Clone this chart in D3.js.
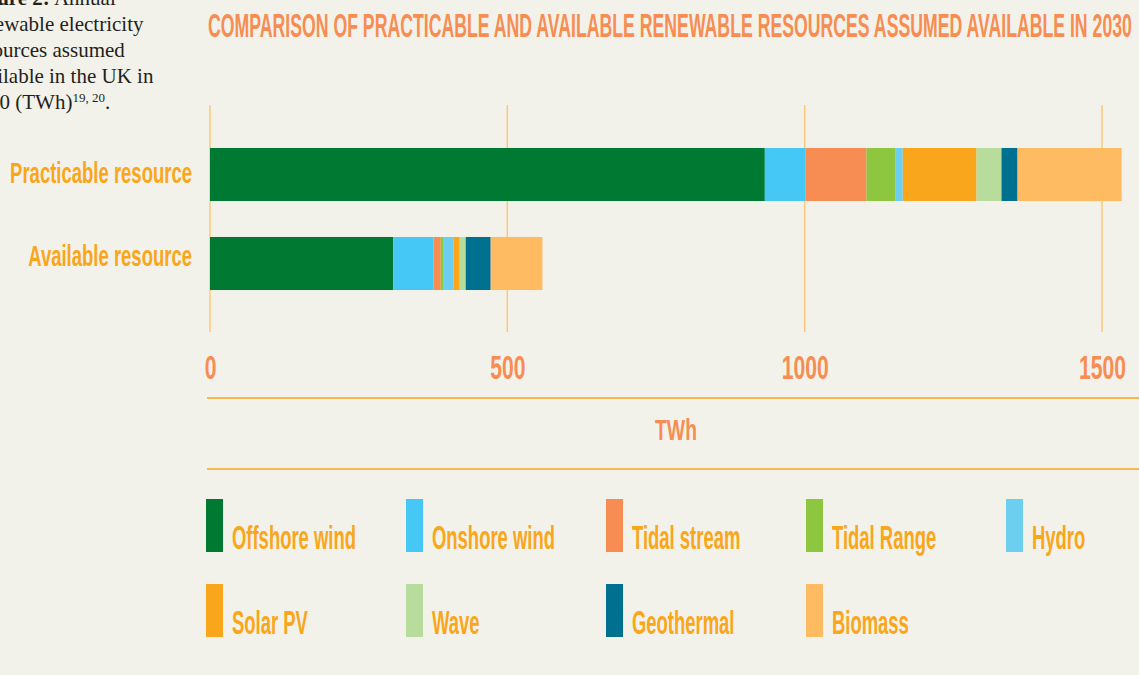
<!DOCTYPE html>
<html>
<head>
<meta charset="utf-8">
<script src="https://cdn.jsdelivr.net/npm/d3@7"></script>
<style>
  body { margin: 0; background: #f3f2ea; }
  svg { display: block; }
</style>
</head>
<body>
<svg id="chart" width="1139" height="675"></svg>
<script>
// data (TWh)
const categories = ["Practicable resource", "Available resource"];
const sources = ["Offshore wind", "Onshore wind", "Tidal stream", "Tidal Range", "Hydro",
                 "Solar PV", "Wave", "Geothermal", "Biomass"];
const practicable = [933, 68, 103, 49, 12, 124, 42, 27, 175];
const available   = [308, 68, 12, 5, 17, 10, 10, 42, 87];
const tickValues = [0, 500, 1000, 1500];
const colors = ["#007a33", "#45c8f5", "#f78d52", "#8dc63f", "#6dcff0",
                "#f9a61c", "#b8dc9c", "#007090", "#ffbb62"];

const svg = d3.select("#chart");
const narrow = "'Liberation Sans Narrow', 'Arial Narrow', 'Liberation Sans', sans-serif";

// horizontal squeeze so a sample string gets the wanted width
function fitScale(sample, size, target) {
  const t = svg.append("text")
    .attr("font-family", narrow).attr("font-weight", "bold")
    .attr("font-size", size).text(sample);
  const w = t.node().getComputedTextLength();
  t.remove();
  return target / w;
}

// condensed text helper
function ctext(g, x, y, txt, size, sx, anchor, fill) {
  return g.append("text")
    .attr("transform", "translate(" + x + "," + y + ") scale(" + sx + ",1)")
    .attr("font-family", narrow)
    .attr("font-weight", "bold")
    .attr("font-size", size)
    .attr("text-anchor", anchor)
    .attr("fill", fill)
    .text(txt);
}

// caption (cut off at left edge)
const cap = svg.append("g")
  .attr("font-family", "'Liberation Serif', 'DejaVu Serif', serif")
  .attr("font-size", 21)
  .attr("fill", "#231f20");
const capX = -32;
const t1 = cap.append("text").attr("x", capX).attr("y", 5);
t1.append("tspan").attr("font-weight", "bold").text("Figure 2:");
t1.append("tspan").text(" Annual");
cap.append("text").attr("x", capX).attr("y", 31).text("renewable electricity");
cap.append("text").attr("x", capX).attr("y", 57).text("resources assumed");
cap.append("text").attr("x", capX).attr("y", 83).text("available in the UK in");
const t5 = cap.append("text").attr("x", capX).attr("y", 109);
t5.append("tspan").text("2030 (TWh)");
t5.append("tspan").attr("font-size", 13).attr("dy", -7).text("19, 20");
t5.append("tspan").attr("dy", 7).text(".");

// title
const title = "COMPARISON OF PRACTICABLE AND AVAILABLE RENEWABLE RESOURCES ASSUMED AVAILABLE IN 2030";
ctext(svg, 208, 37, title, 33, fitScale(title, 33, 924), "start", "#f78d52");

// scales
const x = d3.scaleLinear().domain([0, 1500]).range([210, 1102]);
const y = d3.scaleBand().domain(categories).range([130, 308])
  .paddingInner(0.404).paddingOuter(0.202);

// gridlines
svg.append("g").selectAll("line")
  .data(tickValues)
  .enter().append("line")
  .attr("x1", d => x(d)).attr("x2", d => x(d))
  .attr("y1", 105).attr("y2", 332)
  .attr("stroke", "#fcc878")
  .attr("stroke-width", 1.5);

// stacked bars
const rows = categories.map((c, i) => {
  const vals = i === 0 ? practicable : available;
  const row = { category: c };
  sources.forEach((s, j) => row[s] = vals[j]);
  return row;
});
const stack = d3.stack().keys(sources)(rows);

svg.append("g").selectAll("g")
  .data(stack)
  .enter().append("g")
  .attr("fill", (d, i) => colors[i])
  .selectAll("rect")
  .data(d => d)
  .enter().append("rect")
  .attr("x", d => x(d[0]))
  .attr("width", d => x(d[1]) - x(d[0]))
  .attr("y", d => y(d.data.category))
  .attr("height", y.bandwidth());

// category labels (the original sets them a little off-centre)
const catScale = fitScale(categories[0], 29.5, 182);
const labelShift = [8, 2.5];
categories.forEach((c, i) => {
  ctext(svg, 192, y(c) + y.bandwidth() / 2 + labelShift[i], c, 29.5, catScale, "end", "#f9a61a");
});

// x axis
const tickScale = fitScale("1500", 33, 47);
const xAxis = svg.append("g")
  .attr("transform", "translate(0,379)")
  .call(d3.axisBottom(x).tickValues(tickValues).tickFormat(d3.format("d"))
    .tickSize(0).tickPadding(0));
xAxis.select(".domain").remove();
xAxis.selectAll(".tick text")
  .attr("y", 0).attr("dy", 0)
  .attr("font-family", narrow)
  .attr("font-weight", "bold")
  .attr("font-size", 33)
  .attr("fill", "#f78d52")
  .attr("transform", "scale(" + tickScale + ",1)");

// rules and unit label
svg.append("line").attr("x1", 207).attr("x2", 1139).attr("y1", 398).attr("y2", 398)
  .attr("stroke", "#f9a61a").attr("stroke-width", 1.5);
svg.append("line").attr("x1", 207).attr("x2", 1139).attr("y1", 469).attr("y2", 469)
  .attr("stroke", "#f9a61a").attr("stroke-width", 1.5);
ctext(svg, 676, 440, "TWh", 30, fitScale("TWh", 30, 42), "middle", "#f78d52");

// legend
const legScale = fitScale(sources[0], 34, 124);
const legend = svg.append("g");
sources.forEach((s, i) => {
  const col = i % 5, row = Math.floor(i / 5);
  const lx = 206 + col * 200, ly = 499 + row * 85;
  legend.append("rect")
    .attr("x", lx).attr("y", ly)
    .attr("width", 17).attr("height", 53)
    .attr("fill", colors[i]);
  ctext(legend, lx + 26, ly + 50, s, 34, legScale, "start", "#f9a61a");
});
</script>
</body>
</html>
